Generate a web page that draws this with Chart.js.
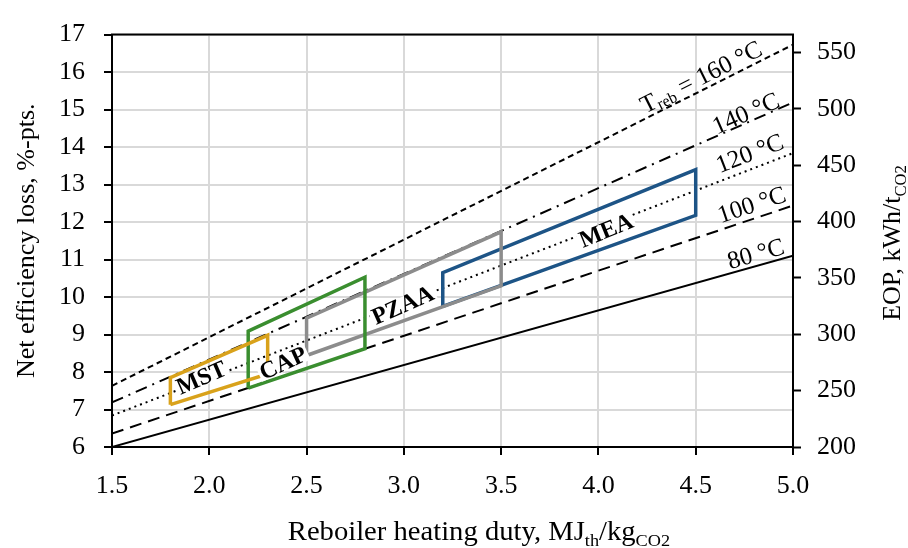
<!DOCTYPE html>
<html>
<head>
<meta charset="utf-8">
<script src="https://cdn.jsdelivr.net/npm/chart.js@4.4.1/dist/chart.umd.min.js"></script>
<style>
  html, body { margin: 0; padding: 0; background: #fff; }
  #wrap { width: 908px; height: 548px; }
</style>
</head>
<body>
<div id="wrap"><canvas id="chartPerdidas" width="908" height="548"></canvas></div>
<script>
// Datos
const dutyEnds = [1.5, 5.0];
const loss80 = [6.0, 11.1];
const loss100 = [6.36, 12.44];
const loss120 = [6.84, 13.84];
const loss140 = [7.19, 15.19];
const loss160 = [7.63, 16.73];

const mstDuty = [1.8, 1.8, 2.3, 2.3, 1.8];
const mstLoss = [7.13, 7.85, 8.98, 7.95, 7.13];
const capDuty = [2.2, 2.2, 2.8, 2.8, 2.2];
const capLoss = [7.57, 9.09, 10.53, 8.62, 7.57];
const pzaaDuty = [2.5, 2.5, 3.5, 3.5, 2.5];
const pzaaLoss = [8.44, 9.44, 11.74, 10.30, 8.44];
const meaDuty = [3.2, 3.2, 4.5, 4.5, 3.2];
const meaLoss = [9.75, 10.65, 13.40, 12.18, 9.75];

const xTicks = [1.5, 2.0, 2.5, 3.0, 3.5, 4.0, 4.5, 5.0];
const eopRange = [200, 565.7];

const FONT = "'Liberation Serif', 'Times New Roman', serif";

function pts(xs, ys) {
    return xs.map((x, i) => ({ x: x, y: ys[i] }));
}

function lineSet(label, ys, dash) {
    return {
        label: label,
        data: pts(dutyEnds, ys),
        showLine: true,
        borderColor: '#000',
        borderWidth: 2,
        borderDash: dash,
        pointRadius: 0,
        fill: false,
        order: 2
    };
}

function boxSet(label, xs, ys, color) {
    return {
        label: label,
        data: pts(xs, ys),
        showLine: true,
        borderColor: color,
        borderWidth: 3.5,
        borderJoinStyle: 'miter',
        pointRadius: 0,
        fill: false,
        order: 1
    };
}

// Etiquetas: [partes de texto], posicion, dataset de referencia para el angulo
const labelsTemp = [
    { parts: [['T', 0], ['reb', 1], [' = 160 °C', 0]], x: 4.53, y: 15.84, ds: 4 },
    { parts: [['140 °C', 0]], x: 4.76, y: 14.87, ds: 3 },
    { parts: [['120 °C', 0]], x: 4.78, y: 13.80, ds: 2 },
    { parts: [['100 °C', 0]], x: 4.79, y: 12.43, ds: 1 },
    { parts: [['80 °C', 0]], x: 4.81, y: 11.12, ds: 0 }
];
const labelsBox = [
    { text: 'MST', x: 1.96, y: 7.84, ds: 5 },
    { text: 'CAP', x: 2.38, y: 8.23, ds: 6 },
    { text: 'PZAA', x: 2.995, y: 9.78, ds: 7 },
    { text: 'MEA', x: 4.04, y: 11.77, ds: 8 }
];

function angleOf(chart, ds, i0, i1) {
    const xs = chart.scales.x, ys = chart.scales.y;
    const d = chart.data.datasets[ds].data;
    const dx = xs.getPixelForValue(d[i1].x) - xs.getPixelForValue(d[i0].x);
    const dy = ys.getPixelForValue(d[i1].y) - ys.getPixelForValue(d[i0].y);
    return Math.atan2(dy, dx);
}

function drawParts(ctx, parts, size) {
    const subSize = size * 0.64;
    let total = 0;
    parts.forEach(p => {
        ctx.font = (p[1] ? subSize : size) + 'px ' + FONT;
        total += ctx.measureText(p[0]).width;
    });
    let x = -total / 2;
    parts.forEach(p => {
        ctx.font = (p[1] ? subSize : size) + 'px ' + FONT;
        ctx.fillText(p[0], x, p[1] ? size * 0.22 : 0);
        x += ctx.measureText(p[0]).width;
    });
}

const etiquetasPlugin = {
    id: 'etiquetas',
    afterDatasetsDraw(chart) {
        const ctx = chart.ctx;
        const xs = chart.scales.x, ys = chart.scales.y;
        const area = chart.chartArea;

        // borde superior
        ctx.save();
        ctx.strokeStyle = '#000';
        ctx.lineWidth = 2;
        ctx.beginPath();
        ctx.moveTo(area.left - 1, area.top);
        ctx.lineTo(area.right + 1, area.top);
        ctx.stroke();
        ctx.restore();

        labelsTemp.forEach(l => {
            const ang = angleOf(chart, l.ds, 0, 1);
            ctx.save();
            ctx.translate(xs.getPixelForValue(l.x), ys.getPixelForValue(l.y));
            ctx.rotate(ang);
            ctx.fillStyle = '#000';
            ctx.textBaseline = 'middle';
            ctx.textAlign = 'left';
            drawParts(ctx, l.parts, 25);
            ctx.restore();
        });

        labelsBox.forEach(l => {
            const ang = angleOf(chart, l.ds, 1, 2);
            ctx.save();
            ctx.translate(xs.getPixelForValue(l.x), ys.getPixelForValue(l.y));
            ctx.rotate(ang);
            ctx.font = 'bold 24px ' + FONT;
            const w = ctx.measureText(l.text).width;
            ctx.fillStyle = '#fff';
            ctx.fillRect(-w / 2 - 2, -8, w + 4, 16);
            ctx.fillStyle = '#000';
            ctx.textBaseline = 'middle';
            ctx.textAlign = 'center';
            ctx.fillText(l.text, 0, 1);
            ctx.restore();
        });
    },
    afterDraw(chart) {
        const ctx = chart.ctx;
        const area = chart.chartArea;
        ctx.save();
        ctx.fillStyle = '#000';
        ctx.textBaseline = 'alphabetic';
        ctx.textAlign = 'left';

        // titulo eje x (algo ensanchado como en el original)
        ctx.save();
        ctx.translate(479, 540);
        ctx.scale(1.06, 1);
        drawParts(ctx, [['Reboiler heating duty, MJ', 0], ['th', 1], ['/kg', 0], ['CO2', 1]], 27);
        ctx.restore();

        // titulo eje y izquierdo
        ctx.save();
        ctx.translate(34, (area.top + area.bottom) / 2);
        ctx.rotate(-Math.PI / 2);
        drawParts(ctx, [['Net efficiency loss, %-pts.', 0]], 26);
        ctx.restore();

        // titulo eje y derecho
        ctx.save();
        ctx.translate(900, 243);
        ctx.rotate(-Math.PI / 2);
        drawParts(ctx, [['EOP, kWh/t', 0], ['CO2', 1]], 26);
        ctx.restore();

        ctx.restore();
    }
};

const gridColor = '#d9d9d9';

new Chart(document.getElementById('chartPerdidas'), {
    type: 'scatter',
    data: {
        datasets: [
            lineSet('80 °C', loss80, []),
            lineSet('100 °C', loss100, [12, 7]),
            lineSet('120 °C', loss120, [2, 4]),
            lineSet('140 °C', loss140, [12, 6, 2, 6]),
            lineSet('160 °C', loss160, [6, 4]),
            boxSet('MST', mstDuty, mstLoss, '#D9A21B'),
            boxSet('CAP', capDuty, capLoss, '#3A8E2F'),
            boxSet('PZAA', pzaaDuty, pzaaLoss, '#8C8C8C'),
            boxSet('MEA', meaDuty, meaLoss, '#1D5486')
        ]
    },
    options: {
        responsive: false,
        animation: false,
        layout: { padding: { top: 28, left: 0, right: 0, bottom: 0 } },
        plugins: {
            legend: { display: false },
            tooltip: { enabled: false }
        },
        scales: {
            x: {
                type: 'linear',
                position: 'bottom',
                min: dutyEnds[0],
                max: dutyEnds[1],
                afterBuildTicks: s => { s.ticks = xTicks.map(v => ({ value: v })); },
                afterFit: s => { s.height = 101; },
                ticks: {
                    callback: v => v.toFixed(1),
                    font: { family: FONT, size: 26 },
                    color: '#000',
                    padding: 16,
                    maxRotation: 0
                },
                grid: { color: gridColor, lineWidth: 2, tickColor: '#000', tickLength: 8, tickWidth: 2 },
                border: { color: '#000', width: 2 }
            },
            y: {
                position: 'left',
                min: 6,
                max: 17,
                afterFit: s => { s.width = 112; },
                ticks: {
                    stepSize: 1,
                    font: { family: FONT, size: 26 },
                    color: '#000',
                    padding: 19
                },
                grid: { color: gridColor, lineWidth: 2, tickColor: '#000', tickLength: 8, tickWidth: 2 },
                border: { color: '#000', width: 2 }
            },
            y2: {
                position: 'right',
                min: eopRange[0],
                max: eopRange[1],
                afterFit: s => { s.width = 115; },
                ticks: {
                    stepSize: 50,
                    includeBounds: false,
                    font: { family: FONT, size: 26 },
                    color: '#000',
                    padding: 16
                },
                grid: { drawOnChartArea: false, tickColor: '#000', tickLength: 8, tickWidth: 2 },
                border: { color: '#000', width: 2 }
            }
        }
    },
    plugins: [etiquetasPlugin]
});
</script>
</body>
</html>
